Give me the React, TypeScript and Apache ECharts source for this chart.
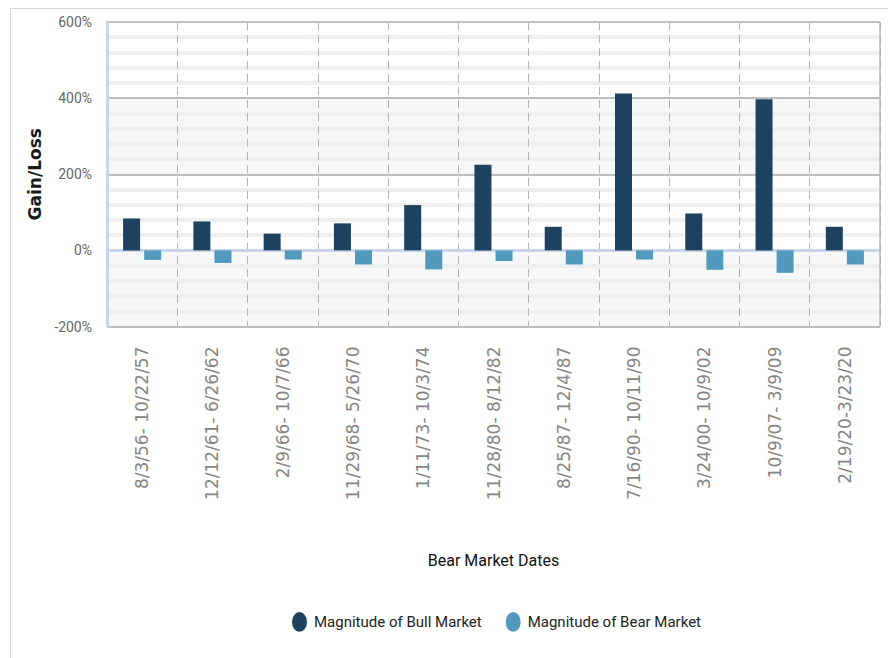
import React, { useEffect, useRef } from "react";
import * as echarts from "echarts";

const categories = [
  "8/3/56- 10/22/57",
  "12/12/61- 6/26/62",
  "2/9/66- 10/7/66",
  "11/29/68- 5/26/70",
  "1/11/73- 10/3/74",
  "11/28/80- 8/12/82",
  "8/25/87- 12/4/87",
  "7/16/90- 10/11/90",
  "3/24/00- 10/9/02",
  "10/9/07- 3/9/09",
  "2/19/20-3/23/20",
];
const bullValues = [84, 76, 44, 71, 119, 225, 62, 412, 97, 397, 62];
const bearValues = [-25, -33, -24, -37, -50, -28, -37, -24, -51, -59, -37];
const seriesNames = ["Magnitude of Bull Market", "Magnitude of Bear Market"];
const yMin = -200;
const yMax = 600;
const yStep = 200;

const SANS = "Roboto, 'Noto Sans', sans-serif";
const ELLIPSE = "path://M50,0 A50,66 0 1,1 50,132 A50,66 0 1,1 50,0 Z";

export default function App() {
  const ref = useRef<HTMLDivElement>(null);
  useEffect(() => {
    if (!ref.current) return;
    const chart = echarts.init(ref.current, null, { renderer: "svg" });
    chart.setOption({
      animation: false,
      backgroundColor: "#ffffff",
      grid: { left: 107, right: 8, top: 22, bottom: 331.5, containLabel: false },
      graphic: [
        { type: "line", shape: { x1: 10.5, y1: 8.5, x2: 888, y2: 8.5 }, style: { stroke: "#d4d4d4", lineWidth: 1 }, silent: true },
        { type: "line", shape: { x1: 10.5, y1: 8.5, x2: 10.5, y2: 658 }, style: { stroke: "#d4d4d4", lineWidth: 1 }, silent: true },
        { type: "line", shape: { x1: 880, y1: 22, x2: 880, y2: 326 }, style: { stroke: "#b4b4b4", lineWidth: 1.5 }, silent: true, z: 10 },
      ],
      legend: {
        left: 287,
        top: 607,
        itemWidth: 15,
        itemHeight: 20,
        itemGap: 24,
        icon: ELLIPSE,
        textStyle: { fontFamily: SANS, fontSize: 15, color: "#222222", padding: [0, 0, 0, 2] },
        data: seriesNames,
      },
      xAxis: {
        type: "category",
        data: categories,
        boundaryGap: true,
        name: "Bear Market Dates",
        nameLocation: "middle",
        nameGap: 226,
        nameTextStyle: { fontFamily: SANS, fontSize: 16, color: "#111111" },
        axisLine: { show: true, lineStyle: { color: "#c9d5ea", width: 3 } },
        axisTick: { show: false },
        axisLabel: {
          rotate: 90,
          margin: 20,
          fontFamily: "'DejaVu Sans', sans-serif",
          fontSize: 17,
          color: "#858585",
        },
        splitLine: { show: true, lineStyle: { type: [8, 5], color: "#b4b4b4", width: 1 } },
      },
      yAxis: {
        type: "value",
        min: yMin,
        max: yMax,
        interval: yStep,
        name: "Gain/Loss",
        nameLocation: "middle",
        nameGap: 61,
        nameTextStyle: { fontFamily: "'DejaVu Sans', sans-serif", fontWeight: "bold", fontSize: 17, color: "#1a1a1a" },
        axisLine: { show: true, lineStyle: { color: "#c9d5ea", width: 3 } },
        axisTick: { show: false },
        axisLabel: { formatter: "{value}%", margin: 15, fontFamily: SANS, fontSize: 14, color: "#666666" },
        splitLine: { show: true, lineStyle: { color: "#a8a8a8", width: 1.5 } },
        minorTick: { show: false, splitNumber: 5 },
        minorSplitLine: { show: true, lineStyle: { color: "#eef0f0", width: 4 } },
        splitArea: { show: true, areaStyle: { color: ["#f6f8f8", "#ffffff"] } },
      },
      series: [
        {
          name: seriesNames[0],
          type: "bar",
          data: bullValues,
          barWidth: 17,
          barGap: "24%",
          itemStyle: { color: "#1c4260" },
        },
        {
          name: seriesNames[1],
          type: "bar",
          data: bearValues,
          barWidth: 17,
          itemStyle: { color: "#5299be" },
        },
      ],
    });
    return () => chart.dispose();
  }, []);
  return <div ref={ref} style={{ position: "fixed", left: 0, top: 0, width: 888, height: 658 }} />;
}
